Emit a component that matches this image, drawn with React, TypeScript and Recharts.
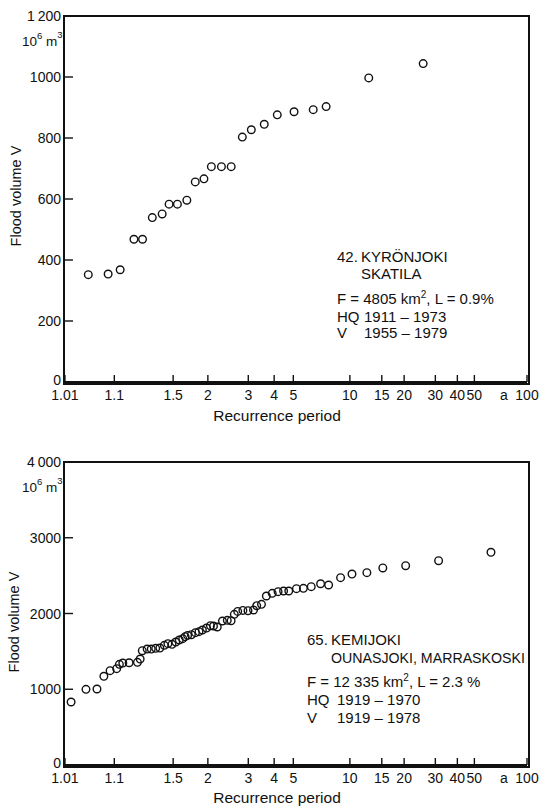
import React from 'react';
import { ScatterChart, Scatter, XAxis, YAxis } from 'recharts';

// recurrence period axis (Gumbel paper)
const periodTicks = [1.01, 1.1, 1.5, 2, 3, 4, 5, 10, 15, 20, 30, 40, 50, 100];
const periodLabels = ['1.01', '1.1', '1.5', '2', '3', '4', '5', '10', '15', '20', '30', '40', '50', '100'];

// 42. Kyrönjoki, Skatila
const kyronPeriods = [1.035, 1.08, 1.122, 1.187, 1.238, 1.307, 1.39, 1.457, 1.548, 1.667, 1.788, 1.93, 2.066, 2.275, 2.508, 2.815, 3.1, 3.575, 4.146, 5.045, 6.35, 7.44, 12.7, 25.6];
const kyronVolumes = [352, 354, 368, 468, 468, 539, 551, 583, 583, 596, 656, 666, 706, 706, 706, 803, 827, 845, 876, 886, 893, 903, 997, 1044];
const kyronTicks = [0, 200, 400, 600, 800, 1000, 1200];

// 65. Kemijoki, Ounasjoki, Marraskoski
const kemiPeriods = [1.0144, 1.0314, 1.0514, 1.068, 1.086, 1.1085, 1.119, 1.133, 1.162, 1.2066, 1.223, 1.2364, 1.269, 1.299, 1.334, 1.3695, 1.41, 1.445, 1.488, 1.529, 1.57, 1.613, 1.644, 1.677, 1.73, 1.791, 1.847, 1.903, 1.976, 2.048, 2.108, 2.185, 2.298, 2.411, 2.506, 2.589, 2.682, 2.832, 2.991, 3.175, 3.287, 3.467, 3.661, 3.913, 4.184, 4.46, 4.74, 5.19, 5.64, 6.2, 6.95, 7.67, 8.9, 10.27, 12.4, 15.2, 20.4, 31.3, 62.2];
const kemiVolumes = [832, 999, 1003, 1171, 1245, 1272, 1329, 1346, 1350, 1355, 1399, 1509, 1531, 1531, 1540, 1544, 1580, 1602, 1593, 1624, 1650, 1668, 1694, 1711, 1720, 1747, 1760, 1782, 1808, 1839, 1835, 1822, 1901, 1910, 1905, 1989, 2028, 2041, 2037, 2046, 2103, 2121, 2231, 2266, 2288, 2297, 2297, 2328, 2332, 2354, 2393, 2376, 2473, 2521, 2539, 2601, 2631, 2697, 2808];
const kemiTicks = [0, 1000, 2000, 3000, 4000];

const FONT = "'Liberation Sans', Arial, sans-serif";
const INK = '#111';
const LW = 2;

// layout
const W = 542;
const Y_AXIS_W = 64;
const RIGHT = 15;
const X_AXIS_H = 43;
const panels = [
  { offset: 0, height: 425, top: 16 },
  { offset: 430, height: 378, top: 32 },
];

const gumbel = (t: number) => -Math.log(-Math.log(1 - 1 / t));
const xTicks = periodTicks.map(gumbel);
const xDomain = [-1.542, gumbel(100)];

const toPoints = (periods: number[], volumes: number[]) =>
  periods.map((t, i) => ({ u: gumbel(t), v: volumes[i] }));

const Ring = (props: any) => (
  <circle cx={props.cx} cy={props.cy} r={3.8} fill="none" stroke={INK} strokeWidth={1.4} />
);

const XTick = (props: any) => {
  const { x, y, payload } = props;
  const i = xTicks.findIndex((t) => Math.abs(t - payload.value) < 1e-6);
  const label = periodLabels[i];
  return (
    <g>
      <line x1={x} x2={x} y1={y} y2={y - 7} stroke={INK} strokeWidth={1.4} />
      <text x={x} y={y + 18} textAnchor="middle" fontSize={14} fontFamily={FONT} fill={INK}>
        {label}
      </text>
      {label === '100' && (
        <text x={x - 23} y={y + 18} textAnchor="middle" fontSize={14} fontFamily={FONT} fill={INK}>
          a
        </text>
      )}
    </g>
  );
};

const makeYTick = (top: number) => (props: any) => {
  const { x, y, payload } = props;
  const v = payload.value;
  const text = v === top ? String(v).replace(/^(\d)/, '$1\u2009') : String(v);
  return (
    <g>
      <line x1={x} x2={x + 9} y1={y} y2={y} stroke={INK} strokeWidth={1.4} />
      <text x={x - 3} y={v === 0 ? y + 3 : y + 5} textAnchor="end" fontSize={14} fontFamily={FONT} fill={INK}>
        {text}
      </text>
      {v === top && (
        <text x={x - 42} y={y + 30} fontSize={13.5} fontFamily={FONT} fill={INK}>
          10<tspan dy={-7} fontSize={9.5}>6</tspan>
          <tspan dy={7}> m</tspan>
          <tspan dy={-8} fontSize={9.5}>3</tspan>
        </text>
      )}
    </g>
  );
};

const Panel = ({ data, yTicks, height, top }: any) => {
  const yMax = yTicks[yTicks.length - 1];
  return (
    <ScatterChart width={W} height={height} margin={{ top, right: RIGHT, bottom: 0, left: 0 }}>
      <XAxis
        type="number"
        dataKey="u"
        domain={xDomain}
        ticks={xTicks}
        interval={0}
        height={X_AXIS_H}
        axisLine={{ stroke: INK, strokeWidth: LW }}
        tickLine={false}
        tickSize={0}
        tickMargin={0}
        tick={<XTick />}
      />
      <YAxis
        type="number"
        dataKey="v"
        domain={[0, yMax]}
        ticks={yTicks}
        interval={0}
        width={Y_AXIS_W}
        axisLine={{ stroke: INK, strokeWidth: LW }}
        tickLine={false}
        tickSize={0}
        tickMargin={0}
        tick={makeYTick(yMax)}
      />
      <Scatter data={data} shape={<Ring />} isAnimationActive={false} />
    </ScatterChart>
  );
};

const T = ({ x, y, children, anchor, size }: any) => (
  <text x={x} y={y} fontSize={size || 15} fontFamily={FONT} fill={INK} textAnchor={anchor || 'start'}>
    {children}
  </text>
);

// plot frame as a plain bordered box laid over each chart
const frameStyle = (p: any): React.CSSProperties => ({
  position: 'absolute',
  left: Y_AXIS_W - LW / 2,
  top: p.offset + p.top - LW / 2,
  width: W - RIGHT - Y_AXIS_W,
  height: p.height - p.top - X_AXIS_H,
  border: `${LW}px solid ${INK}`,
  boxSizing: 'content-box',
  pointerEvents: 'none',
});

export default function App() {
  return (
    <div style={{ position: 'absolute', left: 0, top: 0, width: W, height: 808, background: '#fff' }}>
      <div style={{ position: 'absolute', left: 0, top: panels[0].offset }}>
        <Panel data={toPoints(kyronPeriods, kyronVolumes)} yTicks={kyronTicks} height={panels[0].height} top={panels[0].top} />
      </div>
      <div style={{ position: 'absolute', left: 0, top: panels[1].offset }}>
        <Panel data={toPoints(kemiPeriods, kemiVolumes)} yTicks={kemiTicks} height={panels[1].height} top={panels[1].top} />
      </div>
      {panels.map((p, i) => (
        <div key={i} style={frameStyle(p)} />
      ))}
      <svg width={W} height={808} style={{ position: 'absolute', left: 0, top: 0, pointerEvents: 'none' }}>
        <T x={277} y={421} anchor="middle" size={15.5}>Recurrence period</T>
        <T x={277} y={803} anchor="middle" size={15.5}>Recurrence period</T>
        <g transform="translate(21,196) rotate(-90)">
          <T x={0} y={0} anchor="middle" size={14.5}>Flood volume V</T>
        </g>
        <g transform="translate(19,622) rotate(-90)">
          <T x={0} y={0} anchor="middle" size={14.5}>Flood volume V</T>
        </g>

        <T x={337} y={262}>42.</T>
        <T x={361} y={262}>KYRÖNJOKI</T>
        <T x={361} y={279}>SKATILA</T>
        <T x={337} y={304}>
          F = 4805 km<tspan dy={-6} fontSize={10}>2</tspan>
          <tspan dy={6}>,  L = 0.9%</tspan>
        </T>
        <T x={337} y={322}>HQ</T>
        <T x={364} y={322}>1911 – 1973</T>
        <T x={337} y={338}>V</T>
        <T x={364} y={338}>1955 – 1979</T>

        <T x={307} y={645}>65.</T>
        <T x={331} y={645}>KEMIJOKI</T>
        <T x={331} y={663} size={14.2}>OUNASJOKI, MARRASKOSKI</T>
        <T x={307} y={687}>
          F = 12 335 km<tspan dy={-6} fontSize={10}>2</tspan>
          <tspan dy={6}>,  L = 2.3 %</tspan>
        </T>
        <T x={307} y={705}>HQ</T>
        <T x={337} y={705}>1919 – 1970</T>
        <T x={307} y={723}>V</T>
        <T x={337} y={723}>1919 – 1978</T>
      </svg>
    </div>
  );
}
